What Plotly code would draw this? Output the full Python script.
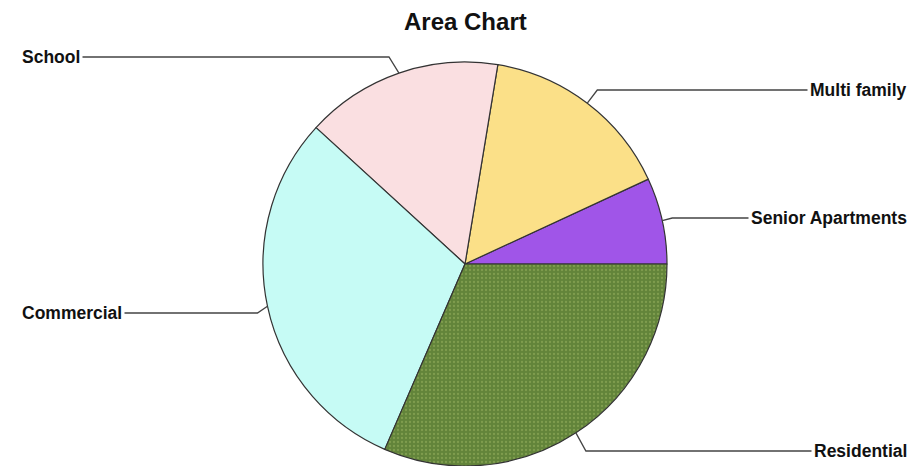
import math
import plotly.graph_objects as go

labels = ["Senior Apartments", "Multi family", "School", "Commercial", "Residential"]
values = [6.9, 15.5, 15.8, 30.3, 31.5]
colors = ["#a055e8", "#fbe088", "#fadfe1", "#c6fbf5", "#62843a"]
label_y_px = [218, 90, 57, 313, 451]   # vertical placement of each callout label (page px)

OFF = 8                      # page body margin
W, H = 915 - OFF, 466 - OFF  # figure size
top_px = 62                  # pie top (page px)
R = (466 - top_px) / 2.0
cx, cy = 465.0, top_px + R   # page px

def px2paper(x, y):
    return (x - OFF) / W, 1 - (y - OFF) / H

total = sum(values)
rotation = 90 - values[0] / total * 360

fig = go.Figure()
dx0, _ = px2paper(cx - 300, 0)
dx1, _ = px2paper(cx + 300, 0)
_, dy1 = px2paper(0, top_px)
fig.add_trace(go.Pie(
    labels=labels, values=values, sort=False,
    direction="counterclockwise", rotation=rotation,
    textinfo="none", hoverinfo="label+percent",
    marker=dict(colors=colors, line=dict(color="#333333", width=1.2),
                pattern=dict(shape=["", "", "", "", "."], fgcolor="#7f9d4e",
                             bgcolor=colors, size=4, solidity=0.25)),
    domain=dict(x=[dx0, dx1], y=[0, dy1]),
    showlegend=False,
))

cum = 0.0
shapes = []
annotations = []
for lab, v, ly in zip(labels, values, label_y_px):
    mid = (cum + v / 2) / total * 2 * math.pi
    cum += v
    px = cx + R * math.cos(mid)
    py = cy - R * math.sin(mid)
    right = math.cos(mid) >= 0
    ex = px + (10 if right else -10)
    end_x = 905 if right else 24
    pts = [px2paper(px, py), px2paper(ex, ly), px2paper(end_x, ly)]
    path = "M {} {} L {} {} L {} {}".format(pts[0][0], pts[0][1], pts[1][0], pts[1][1], pts[2][0], pts[2][1])
    shapes.append(dict(type="path", path=path, xref="paper", yref="paper",
                       line=dict(color="#444444", width=1.3)))
    ax, ay = px2paper(910 if right else 19, ly)
    annotations.append(dict(
        text=lab, xref="paper", yref="paper", x=ax, y=ay,
        xanchor="right" if right else "left", yanchor="middle",
        showarrow=False, bgcolor="white", borderpad=2,
        font=dict(family="Liberation Sans, Arial, sans-serif", size=17.5, color="#111111", weight="bold"),
    ))

tx, ty = px2paper(465, 21)
annotations.append(dict(
    text="Area Chart", xref="paper", yref="paper", x=tx, y=ty,
    xanchor="center", yanchor="middle", showarrow=False,
    font=dict(family="Liberation Sans, Arial, sans-serif", size=24, color="#111111", weight="bold"),
))

fig.update_layout(
    width=W, height=H, margin=dict(l=0, r=0, t=0, b=0),
    paper_bgcolor="white", plot_bgcolor="white",
    shapes=shapes, annotations=annotations, showlegend=False,
)
fig.write_html("out.html")
